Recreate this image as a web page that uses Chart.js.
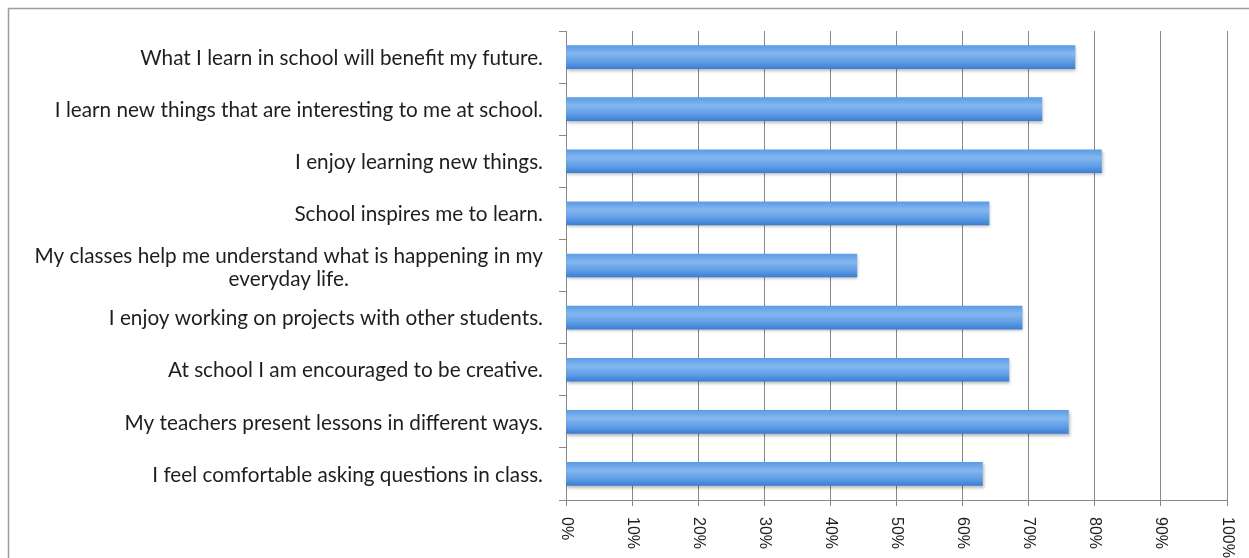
<!DOCTYPE html>
<html>
<head>
<meta charset="utf-8">
<script src="https://cdn.jsdelivr.net/npm/chart.js@4/dist/chart.umd.min.js"></script>
<style>
  html, body { margin: 0; padding: 0; background: #ffffff; }
  #c { display: block; }
</style>
</head>
<body>
<canvas id="c" width="1249" height="558"></canvas>
<script>
// ---- data ----
const categories = [
  "What I learn in school will benefit my future.",
  "I learn new things that are interesting to me at school.",
  "I enjoy learning new things.",
  "School inspires me to learn.",
  ["My classes help me understand what is happening in my", "everyday life."],
  "I enjoy working on projects with other students.",
  "At school I am encouraged to be creative.",
  "My teachers present lessons in different ways.",
  "I feel comfortable asking questions in class."
];
const values = [77, 72, 81, 64, 44, 69, 67, 76, 63];
const tickValues = [0, 10, 20, 30, 40, 50, 60, 70, 80, 90, 100];
const tickLabels = ["0%", "10%", "20%", "30%", "40%", "50%", "60%", "70%", "80%", "90%", "100%"];

// ---- styling ----
const GRID = '#888888';
const LABEL_FONT_FAMILY = 'Lato, "Open Sans", sans-serif';
const TICK_FONT = '16px "Liberation Sans", Arial, sans-serif';

function barFill(ctx) {
  const chart = ctx.chart;
  if (!chart.chartArea || ctx.type !== 'data') return '#5b9be6';
  const y = chart.scales.y.getPixelForValue(ctx.dataIndex);
  const h = 11.5;
  const g = chart.ctx.createLinearGradient(0, y - h, 0, y + h);
  g.addColorStop(0, '#5c9ce6');
  g.addColorStop(0.35, '#84b7ef');
  g.addColorStop(0.75, '#5a9ae4');
  g.addColorStop(1, '#3b7ed2');
  return g;
}

const customLabels = {
  id: 'customLabels',
  beforeDraw(chart) {
    const c = chart.ctx;
    c.save();
    c.strokeStyle = '#9c9c9c';
    c.lineWidth = 1.5;
    c.beginPath();
    c.moveTo(8.5, chart.height);
    c.lineTo(8.5, 8.5);
    c.lineTo(chart.width, 8.5);
    c.stroke();
    c.restore();
  },
  beforeDatasetsDraw(chart) {
    const c = chart.ctx;
    c.save();
    c.shadowColor = 'rgba(0,0,0,0.28)';
    c.shadowBlur = 3;
    c.shadowOffsetX = 1;
    c.shadowOffsetY = 2;
  },
  afterDatasetsDraw(chart) {
    chart.ctx.restore();
  },
  afterDraw(chart) {
    const c = chart.ctx;
    const ys = chart.scales.y, xs = chart.scales.x;
    c.save();
    // fit label font to the reference text width
    c.font = '16px ' + LABEL_FONT_FAMILY;
    const w16 = c.measureText(categories[0]).width;
    const size = 16 * 403 / w16;
    c.font = size.toFixed(2) + 'px ' + LABEL_FONT_FAMILY;
    c.fillStyle = '#1e1e1e';
    c.textBaseline = 'middle';
    const rightEdge = ys.left - 16;
    const lineH = 23;
    categories.forEach((lab, i) => {
      const y = ys.getPixelForValue(i);
      const lines = Array.isArray(lab) ? lab : [lab];
      if (lines.length === 1) {
        c.textAlign = 'right';
        c.fillText(lines[0], rightEdge, y + 1);
      } else {
        const maxW = Math.max(...lines.map(l => c.measureText(l).width));
        const cx = rightEdge - maxW / 2;
        c.textAlign = 'center';
        const y0 = y + 2 - (lines.length - 1) * lineH / 2;
        lines.forEach((l, k) => c.fillText(l, cx, y0 + k * lineH));
      }
    });
    // x tick labels, rotated clockwise
    c.font = TICK_FONT;
    c.fillStyle = '#1e1e1e';
    c.textAlign = 'left';
    c.textBaseline = 'middle';
    tickValues.forEach((v, i) => {
      const x = xs.getPixelForValue(v);
      c.save();
      c.translate(x, xs.top + 17);
      c.rotate(Math.PI / 2);
      c.fillText(tickLabels[i], 0, 0);
      c.restore();
    });
    c.restore();
  }
};

new Chart(document.getElementById('c'), {
  type: 'bar',
  data: {
    labels: categories,
    datasets: [{
      data: values,
      backgroundColor: barFill,
      borderWidth: 0,
      barThickness: 23
    }]
  },
  options: {
    indexAxis: 'y',
    responsive: false,
    animation: false,
    devicePixelRatio: 1,
    layout: { padding: { left: 559, right: 22, top: 31, bottom: 52 } },
    plugins: { legend: { display: false }, tooltip: { enabled: false } },
    scales: {
      x: {
        min: 0, max: 100,
        afterBuildTicks(scale) { scale.ticks = tickValues.map(v => ({ value: v })); },
        ticks: { display: false },
        grid: { color: GRID, lineWidth: 1, tickLength: 6, drawTicks: true },
        border: { color: GRID, width: 1 }
      },
      y: {
        ticks: { display: false },
        grid: { color: GRID, lineWidth: 1, tickLength: 7, drawOnChartArea: false, drawTicks: true, offset: true },
        border: { color: GRID, width: 1 }
      }
    }
  },
  plugins: [customLabels]
});
</script>
</body>
</html>
